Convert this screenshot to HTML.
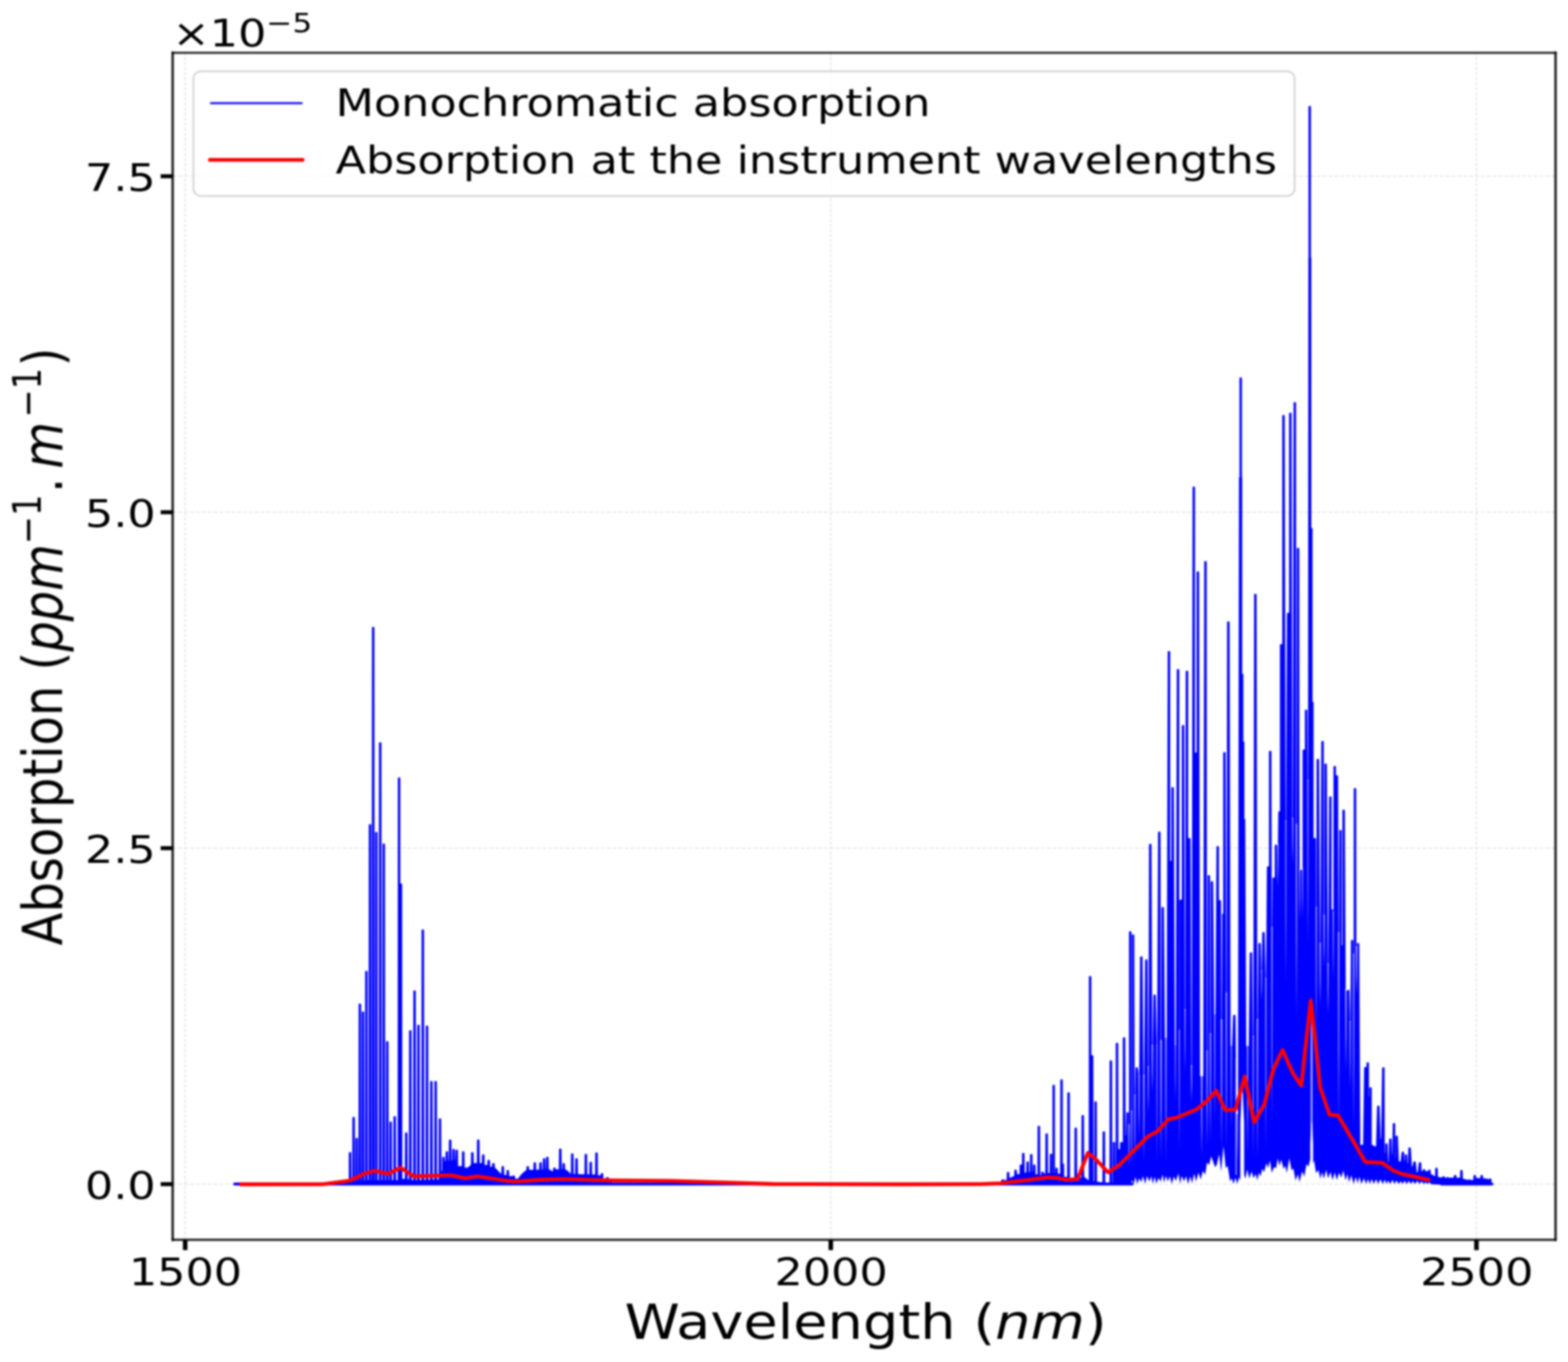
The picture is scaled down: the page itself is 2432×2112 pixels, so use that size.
<!DOCTYPE html>
<html lang="en"><head><meta charset="utf-8"><title>Absorption spectrum</title>
<style>html,body{margin:0;padding:0;background:#fff;overflow:hidden;}svg{display:block;}text{font-family:"DejaVu Sans","Liberation Sans",sans-serif;fill:#000;}.it{font-family:"DejaVu Sans","Liberation Sans",sans-serif;font-style:oblique;}</style></head><body>
<svg width="2432" height="2112" viewBox="0 0 2432 2112">
<defs><filter id="b" color-interpolation-filters="sRGB" x="0" y="0" width="2432" height="2112" filterUnits="userSpaceOnUse"><feGaussianBlur stdDeviation="1.5"/></filter><linearGradient id="sg" x1="0" y1="0" x2="0" y2="1"><stop offset="0" stop-color="#fff" stop-opacity="0.75"/><stop offset="0.6" stop-color="#fff" stop-opacity="0.45"/><stop offset="1" stop-color="#fff" stop-opacity="0"/></linearGradient><clipPath id="ax"><rect x="268.0" y="81.8" width="2144.5" height="1840.7"/></clipPath></defs>
<rect width="2432" height="2112" fill="#fff"/>
<g filter="url(#b)">
<g stroke="#c8c8c8" stroke-width="1.6" fill="none" opacity="0.6">
<line x1="287.2" y1="81.8" x2="287.2" y2="1922.5" stroke-dasharray="4.8 3.05" stroke-dashoffset="1.5"/>
<line x1="1288.6" y1="81.8" x2="1288.6" y2="1922.5" stroke-dasharray="4.8 3.05" stroke-dashoffset="1.5"/>
<line x1="2290" y1="81.8" x2="2290" y2="1922.5" stroke-dasharray="4.8 3.05" stroke-dashoffset="1.5"/>
<line x1="268.0" y1="1836.2" x2="2412.5" y2="1836.2" stroke-dasharray="5.6 3.5"/>
<line x1="268.0" y1="1315.2" x2="2412.5" y2="1315.2" stroke-dasharray="5.6 3.5"/>
<line x1="268.0" y1="794.3" x2="2412.5" y2="794.3" stroke-dasharray="5.6 3.5"/>
<line x1="268.0" y1="273.3" x2="2412.5" y2="273.3" stroke-dasharray="5.6 3.5"/>
</g>
<g clip-path="url(#ax)">
<path d="M364 1836.0H1756M2236 1836.0H2314" stroke="#0000ff" stroke-width="4.6" stroke-linecap="round" fill="none"/>
<path d="M541 1787.4L542 1786.4L543.8 1786.4L544.8 1787.4L545.1 1832.7L546.3 1832.7L546.6 1732.9L547.6 1731.9L549.4 1731.9L550.4 1732.9L550.7 1831.8L551.2 1831.8L551.4 1765.6L552.4 1764.6L554.2 1764.6L555.2 1765.6L555.5 1831.1L556 1831.1L556.3 1557.3L557.3 1556.3L559.1 1556.3L560.1 1557.3L560.3 1830.8L560.8 1830.8L561.1 1569.4L562.1 1568.4L563.9 1568.4L564.9 1569.4L565.2 1830.4L566.1 1830.4L566.4 1506.4L567.4 1505.4L569.2 1505.4L570.2 1506.4L570.5 1830L571.7 1830L572 1279L573 1278L574.8 1278L575.8 1279L576.1 1830L576.6 1830L576.9 973L577.9 972L579.7 972L580.7 973L581 1830L581.5 1830L581.7 1291L582.7 1290L584.5 1290L585.5 1291L585.8 1830L587.5 1830L587.8 1152L588.8 1151L590.6 1151L591.6 1152L591.9 1830L593 1830L593.3 1309L594.3 1308L596.1 1308L597.1 1309L597.4 1830L598.4 1830L598.7 1615.4L599.7 1614.4L601.5 1614.4L602.5 1615.4L602.8 1830L603.7 1830L604 1740.2L605 1739.2L606.8 1739.2L607.8 1740.2L608.1 1830L610 1830L610.3 1731.7L611.3 1730.7L613.1 1730.7L614.1 1731.7L614.4 1830L616.8 1830L617.1 1206.4L618.1 1205.4L619.9 1205.4L620.9 1206.4L620.9 1370L622.7 1370L623.7 1371L624 1828L627.9 1828L628.2 1757.1L629.2 1756.1L631 1756.1L632 1757.1L632.3 1828.8L634.2 1828.8L634.5 1598.5L635.5 1597.5L637.3 1597.5L638.3 1598.5L638.6 1830.1L640.8 1830.1L641.1 1536.7L642.1 1535.7L643.9 1535.7L644.9 1536.7L645.2 1830.3L646.8 1830.3L647.1 1590L648.1 1589L649.9 1589L650.9 1590L651.2 1830.1L653.6 1830.1L653.9 1442.2L654.9 1441.2L656.7 1441.2L657.7 1442.2L658 1829.8L660.1 1829.8L660.4 1591.2L661.4 1590.2L663.2 1590.2L664.2 1591.2L664.5 1829.5L666.9 1829.5L667.2 1677.2L668.2 1676.2L670 1676.2L671 1677.2L671.3 1829.2L673.5 1829.2L673.8 1677.2L674.8 1676.2L676.6 1676.2L677.6 1677.2L677.9 1829L680.2 1829L680.5 1735.3L681.5 1734.3L683.3 1734.3L684.3 1735.3L684.6 1816.3L685.6 1816.3L685.9 1794.7L686.9 1793.7L688.7 1793.7L689.7 1794.7L690 1800.7L690.9 1800.7L691.2 1786.2L692.2 1785.2L694 1785.2L695 1786.2L695.3 1800.1L696 1800.1L696.3 1768L697.3 1767L699.1 1767L700.1 1768L700.4 1799.5L701.3 1799.5L701.6 1782.6L702.6 1781.6L704.4 1781.6L705.4 1782.6L705.7 1798.9L706.2 1798.9L706.5 1783.8L707.5 1782.8L709.3 1782.8L710.3 1783.8L710.6 1808.2L716.3 1808.2L716.6 1786.2L717.6 1785.2L719.4 1785.2L720.4 1786.2L720.7 1810.6L725.6 1810.6L730.4 1806.3L730.7 1787.4L731.7 1786.4L733.5 1786.4L734.5 1787.4L734.8 1803.4L739.6 1803.4L739.9 1768L740.9 1767L742.7 1767L743.7 1768L744 1803.4L747.3 1803.4L747.6 1791L748.6 1790L750.4 1790L751.4 1791L751.7 1806.4L755.8 1806.4L756.1 1799.5L757.1 1798.5L758.9 1798.5L759.9 1799.5L760.2 1809.2L763.1 1809.2L763.4 1804.4L764.4 1803.4L766.2 1803.4L767.2 1804.4L767.5 1810.2L772.6 1815.5L777.6 1820.8L777.9 1809.2L778.9 1808.2L780.7 1808.2L781.7 1809.2L782 1822L785.4 1822L785.7 1815.3L786.7 1814.3L788.5 1814.3L789.5 1815.3L789.8 1823.8L794.6 1823.8L794.9 1823.8L795.9 1822.8L797.7 1822.8L798.7 1823.8L799 1827.8L803.3 1827.7L807.7 1821.9L812 1817.7L816.4 1814.3L816.7 1809.2L817.7 1808.2L819.5 1808.2L820.5 1809.2L820.8 1814.1L827.3 1813.9L827.6 1803.2L828.6 1802.2L830.4 1802.2L831.4 1803.2L831.7 1813.7L836.2 1813.7L836.5 1803.2L837.5 1802.2L839.4 1802.2L840.4 1803.2L840.6 1813.4L841.8 1813.4L842.1 1797.1L843.1 1796.1L844.9 1796.1L845.9 1797.1L846.2 1813.3L846.7 1813.3L847 1794.7L848 1793.7L849.8 1793.7L850.8 1794.7L851.1 1813.1L857.6 1816.6L857.9 1811.6L858.9 1810.6L860.7 1810.6L861.7 1811.6L862 1813.2L866.8 1813.2L867.1 1782.1L868.1 1781.1L869.9 1781.1L870.9 1782.1L871.2 1813.1L872.1 1813.1L872.4 1804.4L873.4 1803.4L875.2 1803.4L876.2 1804.4L876.5 1813.1L881 1815.8L885.4 1820.4L885.7 1789.4L886.7 1788.4L888.5 1788.4L889.5 1789.4L889.8 1820.5L892 1820.5L892.3 1797.1L893.3 1796.1L895.1 1796.1L896.1 1797.1L896.4 1820.7L901.4 1820.8L906.5 1821L906.8 1790.3L907.8 1789.3L909.6 1789.3L910.6 1790.3L910.9 1821.1L914 1821.1L914.3 1802.4L915.3 1801.4L917.1 1801.4L918.1 1802.4L918.4 1821.3L923 1821.3L923.3 1787.9L924.3 1786.9L926.1 1786.9L927.1 1787.9L927.4 1822.6L931.5 1822.6L931.8 1820.1L932.8 1819.1L934.6 1819.1L935.6 1820.1L935.9 1827.5L939.9 1827.5L940.2 1826.2L941.2 1825.2L943 1825.2L944 1826.2L944.3 1831.1L948.3 1833.1L952.3 1835.1L956.3 1837.1L960.3 1837.3L964.4 1837.3L968.4 1837.3L972.4 1837.4L976.4 1837.4L980.4 1837.4L984.4 1837.4L988.4 1837.4L992.4 1837.5L996.4 1837.5L1000.4 1837.5L1004.4 1837.5L1008.4 1837.5L1012.4 1837.5L1016.4 1837.5L1020.4 1837.5L1024.4 1837.5L1028.4 1837.5L1032.4 1837.5L1036.4 1837.5L1040.4 1837.5L1044.4 1837.5L1048.4 1837.5L1052.4 1837.5L1056.4 1837.5L1060.4 1837.5L1064.4 1837.5L1068.5 1837.5L1072.5 1837.5L1076.5 1837.5L1080.5 1837.5L1084.5 1837.5L1088.5 1837.5L1092.5 1837.5L1096.5 1837.5L1100.5 1837.5L1104.5 1837.5L1108.5 1837.5L1112.5 1837.5L1116.5 1837.5L1120.5 1837.5L1124.5 1837.5L1128.5 1837.5L1132.5 1837.5L1136.5 1837.5L1140.5 1837.5L1144.5 1837.5L1148.5 1837.5L1152.5 1837.5L1156.5 1837.5L1160.5 1837.5L1164.5 1837.5L1168.6 1837.5L1172.6 1837.5L1176.6 1837.5L1180.6 1837.5L1184.6 1837.5L1188.6 1837.5L1192.6 1837.5L1196.6 1837.5L1200.6 1837.5L1204.6 1837.5L1208.6 1837.5L1212.6 1837.5L1216.6 1837.5L1220.6 1837.5L1224.6 1837.5L1228.6 1837.5L1232.6 1837.5L1236.6 1837.5L1240.6 1837.5L1244.6 1837.5L1248.6 1837.5L1252.6 1837.5L1256.6 1837.5L1260.6 1837.5L1264.6 1837.5L1268.6 1837.5L1272.7 1837.5L1276.7 1837.5L1280.7 1837.5L1284.7 1837.5L1288.7 1837.5L1292.7 1837.5L1296.7 1837.5L1300.7 1837.5L1304.7 1837.5L1308.7 1837.5L1312.7 1837.5L1316.7 1837.5L1320.7 1837.5L1324.7 1837.5L1328.7 1837.5L1332.7 1837.5L1336.7 1837.5L1340.7 1837.5L1344.7 1837.5L1348.7 1837.5L1352.7 1837.5L1356.7 1837.5L1360.7 1837.5L1364.7 1837.5L1368.7 1837.5L1372.8 1837.5L1376.8 1837.5L1380.8 1837.5L1384.8 1837.5L1388.8 1837.5L1392.8 1837.5L1396.8 1837.5L1400.8 1837.5L1404.8 1837.5L1408.8 1837.5L1412.8 1837.5L1416.8 1837.5L1420.8 1837.5L1424.8 1837.5L1428.8 1837.5L1432.8 1837.5L1436.8 1837.5L1440.8 1837.5L1444.8 1837.5L1448.8 1837.5L1452.8 1837.5L1456.8 1837.5L1460.8 1837.5L1464.8 1837.5L1468.8 1837.5L1472.8 1837.5L1476.9 1837.5L1480.9 1837.5L1484.9 1837.5L1488.9 1837.5L1492.9 1837.5L1496.9 1837.5L1500.9 1837.5L1504.9 1837.5L1508.9 1837.5L1512.9 1837.5L1516.9 1837.5L1520.9 1837.5L1524.9 1837.5L1528.9 1837.5L1532.9 1837.5L1536.9 1837.5L1540.9 1837.5L1544.9 1837.5L1548.9 1834.5L1552.9 1831.9L1553.2 1829.8L1554.2 1828.8L1556 1828.8L1557 1829.8L1557.3 1829.8L1561.4 1829.8L1561.7 1818.2L1562.7 1817.2L1564.5 1817.2L1565.5 1818.2L1565.8 1826.8L1573 1823.6L1573.3 1814.8L1574.3 1813.8L1576.1 1813.8L1577.1 1814.8L1577.4 1820.8L1581.3 1820.8L1581.6 1806.8L1582.6 1805.8L1585.2 1805.8L1585.2 1788.7L1586.2 1787.7L1588 1787.7L1589 1788.7L1589.3 1818.3L1591.7 1818.3L1592 1802L1593 1801L1594.8 1801L1595.8 1802L1596.1 1817.6L1597.3 1817.6L1597.6 1790.6L1598.6 1789.6L1600.4 1789.6L1601.4 1790.6L1601.5 1817.1L1602 1817.1L1602.2 1806.8L1603.2 1805.8L1605 1805.8L1606 1806.8L1606.3 1821.1L1609.1 1821.1L1609.4 1746.7L1610.4 1745.7L1612.2 1745.7L1613.2 1746.7L1613.5 1822.2L1614.7 1822.2L1615 1817.7L1616 1816.7L1617.8 1816.7L1618.8 1817.7L1619.1 1819.8L1621.2 1819.8L1621.5 1758.4L1622.5 1757.4L1624.3 1757.4L1625.3 1758.4L1625.6 1819.1L1628 1819.1L1628.3 1789.9L1629.3 1788.9L1631.1 1788.9L1632.1 1789.9L1632.1 1819.1L1632.4 1819.1L1632.4 1683.3L1633.4 1682.3L1635.2 1682.3L1636.2 1683.3L1636.3 1819.1L1636.8 1819.1L1636.8 1811.7L1637.8 1810.7L1639.6 1810.7L1640.6 1811.7L1640.9 1819.9L1644.3 1819.9L1644.6 1674.8L1645.6 1673.8L1647.4 1673.8L1648.4 1674.8L1648.4 1804.6L1650.3 1804.6L1650.6 1824.7L1655.2 1824.7L1655.5 1694.7L1656.5 1693.7L1658.3 1693.7L1659.3 1694.7L1659.6 1826.9L1666.3 1828.6L1666.6 1749.4L1667.6 1748.4L1669.4 1748.4L1670.4 1749.4L1670.7 1827.5L1677.2 1825.9L1677.5 1730L1678.5 1729L1680.3 1729L1681.3 1730L1681.6 1824.8L1688.6 1830.4L1688.9 1514.4L1689.9 1513.4L1691.7 1513.4L1692.7 1514.4L1692.7 1636.2L1694.8 1636.2L1695.8 1637.2L1696.1 1831.6L1697.1 1831.6L1697.4 1708.7L1698.4 1707.7L1700.2 1707.7L1701.2 1708.7L1701.5 1832.3L1705.7 1832.9L1709.9 1833.5L1710.2 1755.2L1711.2 1754.2L1713 1754.2L1714 1755.2L1714.3 1834.2L1720.8 1835.2L1721.1 1645.2L1722.1 1644.2L1723.9 1644.2L1724.9 1645.2L1725.2 1834.9L1725.7 1834.9L1725.9 1771.7L1726.9 1770.7L1728.7 1770.7L1729.7 1771.7L1729.9 1807.2L1730.4 1807.2L1730.6 1617.9L1731.6 1616.9L1733.4 1616.9L1734.4 1617.9L1734.7 1782L1737 1782L1737.3 1771.7L1738.3 1770.7L1740.1 1770.7L1741.1 1771.7L1741.1 1771.7L1741.5 1771.7L1741.5 1609.4L1742.5 1608.4L1744.3 1608.4L1745.3 1609.4L1745.9 1761.1L1746.4 1761.1L1747 1725.7L1748 1724.7L1749.8 1724.7L1750.8 1725.7L1750.8 1746.3L1751.1 1746.3L1751.1 1445.1L1752.1 1444.1L1753.9 1444.1L1754.9 1445.1L1755 1725.1L1755.5 1725.1L1755.5 1450L1756.5 1449L1758.3 1449L1759.3 1450L1759.9 1700.3L1760.4 1700.3L1761.1 1655.9L1762.1 1654.9L1763.9 1654.9L1764.9 1655.9L1766.4 1669.9L1766.9 1669.9L1768.3 1483.9L1769.3 1482.9L1771.1 1482.9L1772.1 1483.9L1773.7 1669.5L1774.5 1669.5L1776.1 1488.7L1777.1 1487.7L1778.9 1487.7L1779.9 1488.7L1780.8 1656.2L1781.3 1656.2L1782.2 1309.4L1783.2 1308.4L1785 1308.4L1786 1309.4L1787.2 1623L1787.7 1623L1788.9 1543.2L1789.9 1542.2L1791.7 1542.2L1792.7 1543.2L1794.2 1622.1L1794.7 1622.1L1796.2 1290.6L1797.2 1289.6L1799 1289.6L1800 1290.6L1800.5 1615.6L1801 1615.6L1801.5 1407.6L1802.5 1406.6L1804.3 1406.6L1805.3 1407.6L1806.9 1609.2L1809.6 1609.2L1811.2 1010.6L1812.2 1009.6L1814 1009.6L1815 1010.6L1815 1335L1816.8 1335L1816.8 1221.4L1817.8 1220.4L1819.6 1220.4L1820.6 1221.4L1822.2 1620.5L1823.7 1620.5L1825.3 1038.5L1826.3 1037.5L1828.1 1037.5L1829.1 1038.5L1829.1 1599.8L1829.3 1599.8L1829.3 1396L1830.3 1395L1833 1395L1833 1125.2L1834 1124.2L1835.8 1124.2L1836.8 1125.2L1837.7 1567.6L1838.2 1567.6L1839.1 1040.9L1840.1 1039.9L1841.9 1039.9L1842.9 1040.9L1842.9 1299.4L1845.6 1299.4L1846.6 1300.4L1847.9 1654.5L1848.4 1654.5L1849.7 755.4L1850.7 754.4L1852.5 754.4L1853.5 755.4L1853.5 1167L1856 1167L1856 887.1L1857 886.1L1858.8 886.1L1859.8 887.1L1861.4 1668.8L1866.2 1668.8L1867.8 871L1868.8 870L1870.6 870L1871.6 871L1872 1631.9L1872.5 1631.9L1873 1357.9L1874 1356.9L1875.8 1356.9L1876.8 1357.9L1877.1 1605.1L1877.6 1605.1L1877.8 1367.6L1878.8 1366.6L1880.6 1366.6L1881.6 1367.6L1883.2 1572.7L1885.2 1572.7L1886.8 1313.1L1887.8 1312.1L1889.6 1312.1L1890.6 1313.1L1890.6 1395.7L1892.8 1395.7L1893.8 1396.7L1894.4 1583.4L1894.9 1583.4L1895.5 1417L1897.2 1417L1897.2 1167.3L1898.2 1166.3L1900 1166.3L1901 1167.3L1901.9 1541.9L1902.4 1541.9L1903.3 964.6L1904.3 963.6L1906.1 963.6L1907.1 964.6L1908.7 1621.8L1910.9 1621.8L1912.5 1574.7L1913.5 1573.7L1915.3 1573.7L1916.3 1574.7L1917.9 1727.5L1920.1 1727.5L1921.7 740L1922.5 740L1922.5 586.2L1923.5 585.2L1925.3 585.2L1926.3 586.2L1926.3 740L1926.7 740L1926.7 1045L1928.5 1045L1928.5 1150L1930.1 1150L1930.1 1270L1931.4 1270L1933 1622L1936.8 1622L1938.4 1477.8L1939.4 1476.8L1941.2 1476.8L1942.2 1477.8L1943.4 1608.7L1943.9 1608.7L1945.2 921.7L1946.2 920.7L1948 920.7L1949 921.7L1950.1 1582.9L1950.6 1582.9L1951.7 1463.3L1952.7 1462.3L1954.5 1462.3L1955.5 1463.3L1956.4 1506.6L1956.9 1506.6L1957.8 1446.3L1958.8 1445.3L1960.6 1445.3L1961.6 1446.3L1963.1 1518.8L1963.6 1518.8L1965 1344.6L1966 1343.6L1968.2 1343.6L1968.2 1165.2L1969.2 1164.2L1971 1164.2L1972 1165.2L1972.5 1439.9L1973 1439.9L1973.5 1361.7L1974.5 1360.7L1977.2 1360.7L1977.2 1310.7L1978.2 1309.7L1980 1309.7L1981 1310.7L1981.6 1310.7L1982.1 1310.7L1982.7 1258.9L1983.7 1257.9L1985.2 1257.9L1985.2 999.7L1986.2 998.7L1988.8 998.7L1988.8 644.4L1989.8 643.4L1991.6 643.4L1992.6 644.4L1994.1 1275L1994.6 1275L1996.1 951.3L1997.1 950.3L1999.4 950.3L1999.4 640.9L2000.4 639.9L2002.2 639.9L2003.2 640.9L2004.5 1270.6L2005 1270.6L2006.4 624.4L2007.4 623.4L2009.2 623.4L2010.2 624.4L2010.5 1280.6L2011 1280.6L2011.4 850.4L2012.4 849.4L2014.2 849.4L2015.2 850.4L2015.6 1349.5L2016.1 1349.5L2016.4 1349.5L2017.4 1348.5L2019.2 1348.5L2020.2 1349.5L2020.2 1349.5L2020.3 1349.5L2020.3 1163.2L2021.3 1162.2L2023.9 1162.2L2023.9 1101.4L2024.9 1100.4L2026.7 1100.4L2027.7 1101.4L2028.3 1211.8L2028.8 1211.8L2029.3 400L2029.5 400L2029.5 165.3L2030.5 164.3L2032.3 164.3L2033.3 165.3L2033.3 400L2033.9 400L2033.9 819L2035.8 819L2035.8 1088.3L2037.4 1088.3L2037.4 1299.4L2040.1 1299.4L2041.1 1300.4L2041.3 1409L2041.8 1409L2042.1 1177.8L2043.1 1176.8L2044.9 1176.8L2045.9 1177.8L2047.4 1464.7L2047.9 1464.7L2049.4 1149.9L2050.4 1148.9L2052.2 1148.9L2053.2 1149.9L2053.4 1421.3L2053.9 1421.3L2054.2 1185L2055.2 1184L2057 1184L2058 1185L2059.5 1496.4L2060 1496.4L2061.5 1235.9L2062.5 1234.9L2064.3 1234.9L2065.3 1235.9L2065.3 1410.2L2067.6 1410.2L2067.7 1416.7L2068.2 1416.7L2068.3 1188.7L2069.3 1187.7L2071.1 1187.7L2072.1 1188.7L2072.1 1202.2L2074.4 1202.2L2075.4 1203.2L2076.1 1448.5L2076.6 1448.5L2077.2 1288L2078.2 1287L2080 1287L2081 1288L2081 1465.9L2082.1 1465.9L2082.1 1256.5L2083.1 1255.5L2084.9 1255.5L2085.9 1256.5L2087.3 1536L2087.8 1536L2089.2 1536L2090.2 1535L2092 1535L2093 1536L2093.9 1585.7L2094.4 1585.7L2095.3 1458.4L2096.3 1457.4L2098.1 1457.4L2099.1 1458.4L2099.1 1481.8L2099.6 1481.8L2099.7 1223.1L2100.7 1222.1L2102.5 1222.1L2103.5 1223.1L2103.8 1470L2104.3 1470L2104.5 1463.3L2105.5 1462.3L2107.3 1462.3L2108.3 1463.3L2109.9 1775.2L2114.2 1775.2L2115.8 1655.4L2116.8 1654.4L2119.5 1654.4L2119.5 1648.2L2120.5 1647.2L2122.3 1647.2L2123.3 1648.2L2123.3 1700L2123.8 1700L2123.8 1686.9L2124.8 1685.9L2126.6 1685.9L2127.6 1686.9L2127.6 1775.5L2129.5 1775.5L2130.5 1776.5L2132.1 1777.4L2134.3 1777.4L2135.9 1715.5L2136.9 1714.5L2138.7 1714.5L2139.7 1715.5L2141.3 1766.1L2142.1 1766.1L2143.7 1655.9L2144.7 1654.9L2146.5 1654.9L2147.5 1655.9L2147.8 1788.3L2148.3 1788.3L2148.5 1774.1L2149.5 1773.1L2151.3 1773.1L2152.3 1774.1L2153.2 1802L2153.7 1802L2154.6 1766.4L2155.6 1765.4L2157.4 1765.4L2158.4 1766.4L2159 1790.3L2159.5 1790.3L2160.2 1742.6L2161.2 1741.6L2163 1741.6L2164 1742.6L2164 1794.9L2164.3 1794.9L2164.3 1762L2165.3 1761L2167.1 1761L2168.1 1762L2169.7 1800.9L2172.4 1800.9L2174 1786.7L2175 1785.7L2176.8 1785.7L2177.8 1786.7L2178.1 1800.2L2178.6 1800.2L2178.8 1791.1L2179.8 1790.1L2181.6 1790.1L2182.6 1791.1L2183.3 1804.1L2183.8 1804.1L2184.4 1780.2L2185.4 1779.2L2187.2 1779.2L2188.2 1780.2L2189.8 1809.2L2190.6 1809.2L2192.2 1802L2193.2 1801L2194.9 1801L2195.9 1802L2197.5 1817.4L2199 1817.4L2200.6 1803.2L2201.6 1802.2L2203.4 1802.2L2204.4 1803.2L2204.7 1816L2206.4 1816L2206.7 1814.1L2207.7 1813.1L2209.5 1813.1L2210.5 1814.1L2210.8 1816L2214.9 1816L2215.2 1814.8L2216.2 1813.8L2218 1813.8L2219 1814.8L2219.3 1820.3L2225.8 1823.9L2226.1 1811.7L2227.1 1810.7L2228.9 1810.7L2229.9 1811.7L2230.2 1824.9L2236.7 1826L2237 1825L2238 1824L2239.8 1824L2240.8 1825L2241.1 1826.2L2242.7 1826.2L2243 1826.2L2244 1825.2L2245.8 1825.2L2246.8 1826.2L2247.1 1826.2L2254.8 1826L2255.1 1823.1L2256.1 1822.1L2257.9 1822.1L2258.9 1823.1L2259.2 1826.3L2264.5 1826.3L2264.8 1815.3L2265.8 1814.3L2267.6 1814.3L2268.6 1815.3L2268.9 1827.5L2276.6 1829.8L2276.9 1829.8L2277.9 1828.8L2279.7 1828.8L2280.7 1829.8L2281 1829.8L2285.1 1829.8L2285.4 1823.1L2286.4 1822.1L2288.2 1822.1L2289.2 1823.1L2289.5 1826.6L2296 1826.9L2296.3 1823.1L2297.3 1822.1L2299.1 1822.1L2300.1 1823.1L2300.4 1827.2L2304.9 1827.5L2309.3 1828.6L2309.6 1828.6L2310.6 1827.6L2312.4 1827.6L2313.4 1828.6L2313.4 1837L2313.1 1837L2310.1 1837L2307.1 1837L2304.1 1837L2301.1 1837L2298.1 1837L2295.1 1837L2292.1 1837L2289.1 1837L2286.1 1837L2283.1 1837L2280.1 1837L2277.1 1837L2274.1 1837L2271.1 1837L2268.1 1837L2265.1 1837L2262.1 1837L2259.1 1837L2256.1 1837L2253.1 1837L2250.1 1837L2247.1 1837L2244.1 1837L2241.1 1837L2238.1 1837L2235.1 1837L2232.1 1836.9L2229.1 1836.8L2226.1 1836.7L2223.1 1836.6L2220.1 1836.6L2216.8 1833.3L2214 1836L2211 1833L2208.4 1836L2204.7 1831.8L2201.9 1836L2198.3 1831.3L2194.6 1836L2191.4 1831.6L2188.1 1836L2185 1831L2181.9 1836L2178.5 1830.9L2175.4 1836L2172.6 1831.5L2169.4 1836L2165.9 1830.4L2162.8 1836L2159.6 1829.5L2156.5 1836L2153 1830.7L2150.4 1836L2147.9 1829.1L2144.8 1836L2141.1 1828.8L2137.4 1836L2134.4 1828.5L2130.7 1836L2127.7 1828.3L2124.5 1836L2121.7 1827.9L2119 1836L2115.4 1827.1L2111.7 1836L2108.4 1824.8L2105.9 1835L2102.8 1824.9L2099.5 1836L2095.9 1822.6L2092.4 1833.3L2089.8 1820.4L2087.1 1830.6L2083.4 1815.2L2080.4 1826.3L2076.9 1818.6L2073.4 1829.9L2070.3 1818L2066.9 1830L2063.5 1817.3L2060 1827.3L2056.9 1814.3L2053.3 1827.9L2050.6 1817.7L2047.9 1827.9L2045 1814.6L2041.2 1819.1L2038.2 1799.4L2034.8 1809L2032 1798.1L2029.6 1809L2026.4 1805.2L2023 1824.6L2019.5 1816.4L2015.7 1833.1L2013 1821.1L2009.5 1830.8L2006 1811.9L2003.1 1814.5L1999.7 1795.8L1995.9 1819.2L1993.5 1807.6L1990.9 1812.8L1987.2 1798.2L1984.5 1807.9L1981.8 1796.4L1979.2 1811.5L1976.2 1809.7L1972.4 1818.8L1969.8 1799.4L1966.9 1811.2L1964.3 1803.7L1960.7 1817.4L1957.8 1812.6L1955.2 1824.2L1952.7 1818.5L1950.1 1830.4L1947.6 1820.3L1944.3 1827.3L1941.3 1816.6L1937.8 1827.4L1934.3 1813.5L1931.8 1827.9L1928.6 1818.4L1925.2 1834.8L1922 1825.3L1919 1835.7L1916.2 1826.3L1913.2 1836L1910.4 1827.3L1907.8 1831.9L1904.2 1808L1901.2 1811.2L1897.6 1776.9L1894 1817L1890.9 1789.6L1887.3 1806L1884.6 1809.9L1881.1 1799.9L1878.5 1793.2L1875.5 1806.5L1872.1 1802.7L1869.3 1821.4L1865.6 1815.9L1862.2 1829.1L1858.8 1818.3L1855.1 1832.2L1852.1 1819.7L1848.9 1835.1L1846 1824.1L1842.8 1836L1839.5 1824L1836.4 1832L1832.9 1823.5L1830.4 1836L1827.6 1819.4L1823.9 1831.5L1820.7 1824.5L1817.4 1836L1814.5 1823.9L1811.3 1832.1L1808.3 1823.3L1805.6 1833.9L1803.1 1821.2L1800.2 1832.6L1797 1826.4L1793.5 1835.4L1790.9 1824.6L1788.1 1836L1785.6 1824L1782.7 1832.2L1778.9 1823.7L1776.2 1836L1772.7 1823.7L1770.1 1833.4L1767.1 1827.1L1764 1836L1761.1 1825.1L1758.6 1836L1756 1830.4L1753 1837.1L1750 1837.5L1747 1837.5L1744 1837.5L1741 1837.5L1738 1837.5L1735 1837.5L1732 1837.5L1729 1837.5L1726 1837.5L1723 1837.5L1720 1837.5L1717 1837.5L1714 1837.5L1711 1837.5L1708 1837.5L1705 1837.5L1702 1837.5L1699 1837.5L1696 1837.5L1693 1837.5L1690 1837.5L1687 1837.5L1684 1837.5L1681 1837.5L1678 1837.5L1675 1837.5L1672 1837.5L1669 1837.5L1666 1837.5L1663 1837.5L1660 1837.5L1657 1837.5L1654 1837.5L1651 1837.5L1648 1837.5L1645 1837.5L1642 1837.5L1639 1837.5L1636 1837.5L1633 1837.5L1630 1837.5L1627 1837.5L1624 1837.5L1621 1837.5L1618 1837.5L1615 1837.5L1612 1837.5L1609 1837.5L1606 1837.5L1603 1837.5L1600 1837.5L1597 1837.5L1594 1837.5L1591 1837.5L1588 1837.5L1585 1837.5L1582 1837.5L1579 1837.5L1576 1837.5L1573 1837.5L1570 1837.5L1567 1837.5L1564 1837.5L1561 1837.5L1558 1837.5L1555 1837.5L1552 1837.5L1549 1837.5L1546 1837.5L1543 1837.5L1540 1837.5L1537 1837.5L1534 1837.5L1531 1837.5L1528 1837.5L1525 1837.5L1522 1837.5L1519 1837.5L1516 1837.5L1513 1837.5L1510 1837.5L1507 1837.5L1504 1837.5L1501 1837.5L1498 1837.5L1495 1837.5L1492 1837.5L1489 1837.5L1486 1837.5L1483 1837.5L1480 1837.5L1477 1837.5L1474 1837.5L1471 1837.5L1468 1837.5L1465 1837.5L1462 1837.5L1459 1837.5L1456 1837.5L1453 1837.5L1450 1837.5L1447 1837.5L1444 1837.5L1441 1837.5L1438 1837.5L1435 1837.5L1432 1837.5L1429 1837.5L1426 1837.5L1423 1837.5L1420 1837.5L1417 1837.5L1414 1837.5L1411 1837.5L1408 1837.5L1405 1837.5L1402 1837.5L1399 1837.5L1396 1837.5L1393 1837.5L1390 1837.5L1387 1837.5L1384 1837.5L1381 1837.5L1378 1837.5L1375 1837.5L1372 1837.5L1369 1837.5L1366 1837.5L1363 1837.5L1360 1837.5L1357 1837.5L1354 1837.5L1351 1837.5L1348 1837.5L1345 1837.5L1342 1837.5L1339 1837.5L1336 1837.5L1333 1837.5L1330 1837.5L1327 1837.5L1324 1837.5L1321 1837.5L1318 1837.5L1315 1837.5L1312 1837.5L1309 1837.5L1306 1837.5L1303 1837.5L1300 1837.5L1297 1837.5L1294 1837.5L1291 1837.5L1288 1837.5L1285 1837.5L1282 1837.5L1279 1837.5L1276 1837.5L1273 1837.5L1270 1837.5L1267 1837.5L1264 1837.5L1261 1837.5L1258 1837.5L1255 1837.5L1252 1837.5L1249 1837.5L1246 1837.5L1243 1837.5L1240 1837.5L1237 1837.5L1234 1837.5L1231 1837.5L1228 1837.5L1225 1837.5L1222 1837.5L1219 1837.5L1216 1837.5L1213 1837.5L1210 1837.5L1207 1837.5L1204 1837.5L1201 1837.5L1198 1837.5L1195 1837.5L1192 1837.5L1189 1837.5L1186 1837.5L1183 1837.5L1180 1837.5L1177 1837.5L1174 1837.5L1171 1837.5L1168 1837.5L1165 1837.5L1162 1837.5L1159 1837.5L1156 1837.5L1153 1837.5L1150 1837.5L1147 1837.5L1144 1837.5L1141 1837.5L1138 1837.5L1135 1837.5L1132 1837.5L1129 1837.5L1126 1837.5L1123 1837.5L1120 1837.5L1117 1837.5L1114 1837.5L1111 1837.5L1108 1837.5L1105 1837.5L1102 1837.5L1099 1837.5L1096 1837.5L1093 1837.5L1090 1837.5L1087 1837.5L1084 1837.5L1081 1837.5L1078 1837.5L1075 1837.5L1072 1837.5L1069 1837.5L1066 1837.5L1063 1837.5L1060 1837.5L1057 1837.5L1054 1837.5L1051 1837.5L1048 1837.5L1045 1837.5L1042 1837.5L1039 1837.5L1036 1837.5L1033 1837.5L1030 1837.5L1027 1837.5L1024 1837.5L1021 1837.5L1018 1837.5L1015 1837.5L1012 1837.5L1009 1837.5L1006 1837.5L1003 1837.5L1000 1837.5L997 1837.5L994 1837.5L991 1837.5L988 1837.5L985 1837.5L982 1837.5L979 1837.5L976 1837.5L973 1837.5L970 1837.5L967 1837.5L964 1837.5L961 1837.5L958 1837.5L955 1837.5L952 1837.5L949 1837.5L946 1837.5L943 1837.5L940 1837.5L937 1837.5L934 1837.5L931 1837.5L928 1837.5L925 1837.5L922 1837.5L919 1837.5L916 1837.5L913 1837.5L910 1837.5L907 1837.5L904 1837.5L901 1837.5L898 1837.5L895 1837.5L892 1837.5L889 1837.5L886 1837.5L883 1837.5L880 1837.5L877 1837.5L874 1837.5L871 1837.5L868 1837.5L865 1837.5L862 1837.5L859 1837.5L856 1837.5L853 1837.5L850 1837.5L847 1837.5L844 1837.5L841 1837.5L838 1837.5L835 1837.5L832 1837.5L829 1837.5L826 1837.5L823 1837.5L820 1837.5L817 1837.5L814 1837.5L811 1837.5L808 1837.5L805 1837.5L802 1837.5L799 1837.5L796 1837.5L793 1837.5L790 1837.5L787 1837.5L784 1837.5L781 1837.5L778 1837.5L775 1837.5L772 1837.5L769 1837.5L766 1837.5L763 1837.5L760 1837.5L757 1837.5L754 1837.5L751 1837.5L748 1837.5L745 1837.5L742 1837.5L739 1837.5L736 1837.5L733 1837.5L730 1837.5L727 1837.5L724 1837.5L721 1837.5L718 1837.5L715 1837.5L712 1837.5L709 1837.5L706 1837.5L703 1837.5L700 1837.5L697 1837.5L694 1837.5L691 1837.5L688 1837.5L685 1837.5L682 1837.5L679 1837.5L676 1837.5L673 1837.5L670 1837.5L667 1837.5L664 1837.5L661 1837.5L658 1837.5L655 1837.5L652 1837.5L649 1837.5L646 1837.5L643 1837.5L640 1837.5L637 1837.5L634 1837.5L631 1837.5L628 1837.5L625 1837.5L622 1837.5L619 1837.5L616 1837.5L613 1837.5L610 1837.5L607 1837.5L604 1837.5L601 1837.5L598 1837.5L595 1837.5L592 1837.5L589 1837.5L586 1837.5L583 1837.5L580 1837.5L577 1837.5L574 1837.5L571 1837.5L568 1837.5L565 1837.5L562 1837.5L559 1837.5L556 1837.5L553 1837.5L550 1837.5L547 1837.5L544 1837.5L541 1837.5Z" fill="#0000ff" fill-rule="nonzero"/>
<rect x="1750.1" y="1743.3" width="1.8" height="66.2" fill="url(#sg)"/>
<rect x="1754.4" y="1722.1" width="1.7" height="85.4" fill="url(#sg)"/>
<rect x="1759.3" y="1697.3" width="1.8" height="103.4" fill="url(#sg)"/>
<rect x="1765.7" y="1666.9" width="1.8" height="98" fill="url(#sg)"/>
<rect x="1773.1" y="1666.5" width="2" height="134.7" fill="url(#sg)"/>
<rect x="1780.2" y="1653.2" width="1.6" height="74.5" fill="url(#sg)"/>
<rect x="1786.4" y="1620" width="2" height="73.6" fill="url(#sg)"/>
<rect x="1793.8" y="1619.1" width="1.3" height="182.6" fill="url(#sg)"/>
<rect x="1799.7" y="1612.6" width="2.2" height="183.6" fill="url(#sg)"/>
<rect x="1807.4" y="1606.2" width="1.9" height="193.7" fill="url(#sg)"/>
<rect x="1822.3" y="1617.5" width="1.3" height="90.9" fill="url(#sg)"/>
<rect x="1828.5" y="1596.8" width="1.4" height="187.4" fill="url(#sg)"/>
<rect x="1837.2" y="1564.6" width="1.5" height="99.5" fill="url(#sg)"/>
<rect x="1847.3" y="1651.5" width="1.7" height="57.8" fill="url(#sg)"/>
<rect x="1862.8" y="1665.8" width="2.1" height="128.5" fill="url(#sg)"/>
<rect x="1871.3" y="1628.9" width="1.9" height="149.5" fill="url(#sg)"/>
<rect x="1876.4" y="1602.1" width="1.9" height="168.4" fill="url(#sg)"/>
<rect x="1883.4" y="1569.7" width="1.6" height="168.9" fill="url(#sg)"/>
<rect x="1893.5" y="1580.4" width="2.2" height="201.3" fill="url(#sg)"/>
<rect x="1901.2" y="1538.9" width="1.9" height="240.4" fill="url(#sg)"/>
<rect x="1909" y="1618.8" width="1.5" height="132" fill="url(#sg)"/>
<rect x="1918.3" y="1724.5" width="1.4" height="78.2" fill="url(#sg)"/>
<rect x="1934.1" y="1619" width="1.7" height="171.3" fill="url(#sg)"/>
<rect x="1942.9" y="1605.7" width="1.6" height="187.9" fill="url(#sg)"/>
<rect x="1949.3" y="1579.9" width="2.1" height="216.8" fill="url(#sg)"/>
<rect x="1955.9" y="1503.6" width="1.5" height="50.1" fill="url(#sg)"/>
<rect x="1962.5" y="1515.8" width="1.7" height="265.5" fill="url(#sg)"/>
<rect x="1971.9" y="1436.9" width="1.7" height="304.9" fill="url(#sg)"/>
<rect x="1980.9" y="1307.7" width="1.9" height="69" fill="url(#sg)"/>
<rect x="1993.6" y="1272" width="1.5" height="252.4" fill="url(#sg)"/>
<rect x="2004" y="1267.6" width="1.6" height="72.7" fill="url(#sg)"/>
<rect x="2009.8" y="1277.6" width="2" height="300.7" fill="url(#sg)"/>
<rect x="2015" y="1346.5" width="1.5" height="80.7" fill="url(#sg)"/>
<rect x="2019.6" y="1346.5" width="1.4" height="76.3" fill="url(#sg)"/>
<rect x="2027.8" y="1208.8" width="1.5" height="257.2" fill="url(#sg)"/>
<rect x="2040.7" y="1406" width="1.7" height="195.4" fill="url(#sg)"/>
<rect x="2046.6" y="1461.7" width="2" height="99.6" fill="url(#sg)"/>
<rect x="2052.7" y="1418.3" width="1.9" height="84.1" fill="url(#sg)"/>
<rect x="2058.9" y="1493.4" width="1.7" height="80.3" fill="url(#sg)"/>
<rect x="2067.1" y="1413.7" width="1.5" height="105.3" fill="url(#sg)"/>
<rect x="2075.3" y="1445.5" width="2" height="302.4" fill="url(#sg)"/>
<rect x="2086.5" y="1533" width="2.1" height="129.1" fill="url(#sg)"/>
<rect x="2093.3" y="1582.7" width="1.7" height="104.8" fill="url(#sg)"/>
<rect x="2098.5" y="1478.8" width="1.9" height="272.1" fill="url(#sg)"/>
<rect x="2102.9" y="1467" width="2.2" height="76.1" fill="url(#sg)"/>
<path d="M1926.1 1690L1927.3 1690L1929.6 1741.1L1929.6 1836L1923.8 1836L1923.8 1741.1Z" fill="#fff" fill-opacity="1.0"/>
<path d="M2033.8 1740L2035 1740L2036.6 1773.6L2036.6 1836L2032.3 1836L2032.3 1773.6Z" fill="#fff" fill-opacity="1.0"/>
<path d="M2033.7 1560L2034.8 1560L2035.6 1630L2035.6 1760L2032.9 1760L2032.9 1630Z" fill="#fff" fill-opacity="0.7"/>
<path d="M1916.6 1640L1917.8 1640L1918.2 1703.7L1918.2 1822L1916.2 1822L1916.2 1703.7Z" fill="#fff" fill-opacity="0.6"/>
<path d="M371.8 1836.5 L500 1836.3 L540 1831.2 L554.5 1825.2 L564.2 1820.3 L581.2 1815.5 L601.8 1820.3 L621.2 1810.6 L641.7 1824 L699.9 1822.3 L721.7 1827.1 L739.9 1824 L782.2 1830.5 L799.2 1832.4 L835.5 1829.5 L874.3 1828.3 L951.8 1830.5 L1040 1831.2 L1200 1836 L1400 1836.5 L1520 1836.1 L1551.5 1834.9 L1592.7 1830 L1624.2 1825.9 L1638.7 1826.4 L1653.2 1829.3 L1671.4 1828.4 L1687.2 1787.7 L1699.3 1797.3 L1718.6 1817.9 L1735.6 1807 L1780.4 1762.2 L1796.2 1753.7 L1811.9 1735.6 L1825.2 1733.1 L1856.7 1719.8 L1871.3 1707.7 L1886.3 1691.2 L1900.3 1721 L1916.1 1721 L1930.6 1669 L1945.1 1740.4 L1960.9 1712.6 L1975.4 1656.8 L1989.4 1628.3 L2005.1 1664.1 L2018.4 1683.5 L2025.7 1615.7 L2033 1551.5 L2040.2 1615.7 L2047.5 1685.9 L2062 1728.3 L2075.3 1729.5 L2117.7 1801.7 L2144.4 1803.4 L2161.3 1815.5 L2174.7 1820.4 L2218.3 1830" fill="none" stroke="#ff0000" stroke-width="5.8" stroke-linejoin="round" stroke-linecap="butt"/>
</g>
<g stroke="#000" stroke-opacity="0.86" fill="none" stroke-linecap="square"><path d="M268.0 81.8H2412.5M268.0 1922.5H2412.5" stroke-width="3.3"/><path d="M267.8 81.8V1922.5M2412.7 81.8V1922.5" stroke-width="3.9"/></g>
<g stroke="#000" stroke-width="6.2">
<line x1="249.2" y1="1836.2" x2="268.0" y2="1836.2"/>
<line x1="249.2" y1="1315.2" x2="268.0" y2="1315.2"/>
<line x1="249.2" y1="794.3" x2="268.0" y2="794.3"/>
<line x1="249.2" y1="273.3" x2="268.0" y2="273.3"/>
</g><g stroke="#000" stroke-width="7.0">
<line x1="287.2" y1="1922.5" x2="287.2" y2="1938.5"/>
<line x1="1288.6" y1="1922.5" x2="1288.6" y2="1938.5"/>
<line x1="2290" y1="1922.5" x2="2290" y2="1938.5"/>
</g>
<text transform="translate(287.7 1993.2) scale(1.16 1)" font-size="59.5" text-anchor="middle">1500</text>
<text transform="translate(1289.1 1993.2) scale(1.16 1)" font-size="59.5" text-anchor="middle">2000</text>
<text transform="translate(2290.5 1993.2) scale(1.16 1)" font-size="59.5" text-anchor="middle">2500</text>
<text transform="translate(241.5 1858.8) scale(1.16 1)" font-size="59.5" text-anchor="end">0.0</text>
<text transform="translate(241.5 1337.8) scale(1.16 1)" font-size="59.5" text-anchor="end">2.5</text>
<text transform="translate(241.5 816.9) scale(1.16 1)" font-size="59.5" text-anchor="end">5.0</text>
<text transform="translate(241.5 295.9) scale(1.16 1)" font-size="59.5" text-anchor="end">7.5</text>
<text transform="translate(267.5 72.4) scale(1.16 1)" font-size="59.5" text-anchor="start">×10<tspan font-size="41.65" dy="-22.61">−5</tspan></text>
<text transform="translate(1342.6 2076) scale(1.17 1)" font-size="74.0" text-anchor="middle">Wavelength (<tspan class="it">nm</tspan>)</text>
<text transform="translate(96.5 1002.5) scale(1.16 1) rotate(-90)" font-size="74.4" text-anchor="middle">Absorption (<tspan class="it">ppm</tspan><tspan font-size="52.08" dy="-28.27">−1</tspan><tspan dy="28.27" dx="2.5">.</tspan><tspan class="it" dx="14">m</tspan><tspan font-size="52.08" dy="-28.27" dx="7">−1</tspan><tspan dy="28.27" dx="2.5">)</tspan></text>
<rect x="300" y="110.5" width="1708" height="193.5" rx="13" ry="11" fill="#fff" fill-opacity="0.8" stroke="#ccc" stroke-opacity="0.8" stroke-width="3"/>
<line x1="327" y1="159.9" x2="468" y2="159.9" stroke="#0000ff" stroke-width="3.0" stroke-linecap="round"/>
<line x1="325.5" y1="247.8" x2="469.5" y2="247.8" stroke="#ff0000" stroke-width="5.8" stroke-linecap="round"/>
<text transform="translate(520.5 180) scale(1.16 1)" font-size="59.5" text-anchor="start">Monochromatic absorption</text>
<text transform="translate(520.5 268.5) scale(1.16 1)" font-size="59.5" text-anchor="start">Absorption at the instrument wavelengths</text>
</g></svg></body></html>
